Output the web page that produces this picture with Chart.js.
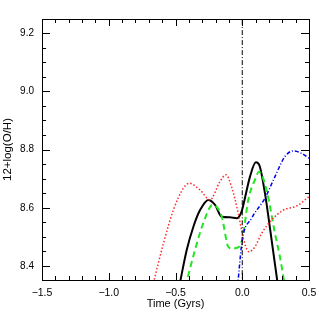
<!DOCTYPE html>
<html lang="en">

<head>
  <meta charset="UTF-8">
  <title>12+log(O/H) vs time</title>
  <style>
    html, body { margin: 0; padding: 0; background: #fff; overflow: hidden; }
    #wrap { width: 319px; height: 319px; }
  </style>
</head>

<body>
  <div id="wrap"><canvas id="ohChart"></canvas></div>

  <script src="https://cdn.jsdelivr.net/npm/chart.js"></script>

  <script>
    // tick labels
    const xTicks = [-1.5, -1.0, -0.5, 0.0, 0.5];
    const yTicks = [8.4, 8.6, 8.8, 9.0, 9.2];

    // black solid
    const blackTime = [-0.472, -0.416, -0.366, -0.316, -0.254, -0.204, -0.154, -0.092, -0.042, -0.005, 0.02, 0.058, 0.102, 0.132, 0.17, 0.22, 0.268];
    const blackOH = [8.33, 8.455, 8.535, 8.592, 8.627, 8.61, 8.569, 8.567, 8.564, 8.587, 8.633, 8.707, 8.756, 8.741, 8.65, 8.489, 8.33];

    // green dashed
    const greenTime = [-0.426, -0.354, -0.292, -0.222, -0.154, -0.105, -0.08, -0.045, -0.01, 0.008, 0.045, 0.095, 0.125, 0.182, 0.245, 0.282, 0.32];
    const greenOH = [8.33, 8.455, 8.547, 8.61, 8.57, 8.466, 8.46, 8.462, 8.476, 8.512, 8.627, 8.696, 8.724, 8.661, 8.512, 8.432, 8.33];

    // red dotted
    const redTime = [-0.672, -0.59, -0.516, -0.441, -0.396, -0.316, -0.242, -0.167, -0.122, -0.08, -0.03, 0.008, 0.05, 0.095, 0.145, 0.22, 0.307, 0.407, 0.5];
    const redOH = [8.33, 8.478, 8.592, 8.667, 8.684, 8.661, 8.627, 8.69, 8.713, 8.672, 8.581, 8.495, 8.449, 8.466, 8.512, 8.558, 8.592, 8.606, 8.638];

    // blue dash-dot
    const blueTime = [-0.035, 0.0, 0.07, 0.17, 0.245, 0.32, 0.381, 0.444, 0.5];
    const blueOH = [8.33, 8.489, 8.564, 8.633, 8.707, 8.776, 8.795, 8.787, 8.77];

    // vertical marker at t = 0
    const markTime = [0, 0];
    const markOH = [8.3, 9.3];

    const X_MIN = -1.5, X_MAX = 0.5;
    const Y_MIN = 8.352, Y_MAX = 9.248;

    function pts(xs, ys) {
      return xs.map((x, i) => ({ x: x, y: ys[i] }));
    }

    function curve(xs, ys, color, width, dash) {
      return {
        data: pts(xs, ys),
        showLine: true,
        borderColor: color,
        borderWidth: width,
        borderDash: dash,
        pointRadius: 0,
        cubicInterpolationMode: 'monotone',
        fill: false
      };
    }

    // box and tick marks on all four sides
    const framePlugin = {
      id: 'frame',
      afterDatasetsDraw(chart) {
        const { ctx, chartArea: a, scales } = chart;
        const sx = scales.x, sy = scales.y;
        ctx.save();
        ctx.strokeStyle = '#000';
        ctx.lineWidth = 1;
        ctx.strokeRect(Math.round(a.left) + 0.5, Math.round(a.top) + 0.5,
          Math.round(a.right - a.left), Math.round(a.bottom - a.top));
        ctx.beginPath();
        for (let i = 0; i <= 20; i++) {
          const v = X_MIN + i * 0.1;
          const px = Math.round(sx.getPixelForValue(v)) + 0.5;
          const len = (i % 5 === 0) ? 7 : 4;
          ctx.moveTo(px, a.bottom); ctx.lineTo(px, a.bottom - len);
          ctx.moveTo(px, a.top); ctx.lineTo(px, a.top + len);
        }
        for (let i = 0; i <= 20; i++) {
          const v = 8.35 + i * 0.05;
          if (v <= Y_MIN + 0.001 || v >= Y_MAX - 0.001) continue;
          const py = Math.round(sy.getPixelForValue(v)) + 0.5;
          const major = Math.abs((v - 8.4) / 0.2 - Math.round((v - 8.4) / 0.2)) < 0.01;
          const len = major ? 8 : 4;
          ctx.moveTo(a.left, py); ctx.lineTo(a.left + len, py);
          ctx.moveTo(a.right, py); ctx.lineTo(a.right - len, py);
        }
        ctx.stroke();
        ctx.restore();
      }
    };

    const fontFam = "'Liberation Sans', Arial, Helvetica, sans-serif";

    new Chart(document.getElementById('ohChart'), {
      type: 'scatter',
      data: {
        datasets: [
          curve(markTime, markOH, '#000000', 1, [5, 2, 1, 2]),
          curve(redTime, redOH, '#ff2a2a', 1.5, [1.5, 2]),
          curve(blueTime, blueOH, '#0000ee', 1.5, [4, 2, 1, 2]),
          curve(greenTime, greenOH, '#22e622', 2, [6, 4]),
          curve(blackTime, blackOH, '#000000', 2, [])
        ]
      },
      options: {
        responsive: true,
        maintainAspectRatio: false,
        animation: false,
        layout: { padding: { left: 0, right: 10, top: 19, bottom: 0 } },
        plugins: {
          legend: { display: false },
          tooltip: { enabled: false }
        },
        scales: {
          x: {
            type: 'linear',
            min: X_MIN,
            max: X_MAX,
            grid: { display: false, drawTicks: false },
            border: { display: false },
            afterBuildTicks: (s) => { s.ticks = xTicks.map(v => ({ value: v })); },
            afterFit: (s) => { s.height = 39; s.paddingLeft = 0; s.paddingRight = 0; },
            ticks: {
              color: '#000',
              padding: 7,
              maxRotation: 0,
              font: { family: fontFam, size: 10.5 },
              callback: (v) => v.toFixed(1).replace('-', '\u2212')
            },
            title: {
              display: true,
              text: 'Time (Gyrs)',
              color: '#000',
              font: { family: fontFam, size: 11 },
              padding: { top: 0, bottom: 8 }
            }
          },
          y: {
            type: 'linear',
            min: Y_MIN,
            max: Y_MAX,
            grid: { display: false, drawTicks: false },
            border: { display: false },
            afterBuildTicks: (s) => { s.ticks = yTicks.map(v => ({ value: v })); },
            afterFit: (s) => { s.width = 42; s.paddingTop = 0; s.paddingBottom = 0; },
            ticks: {
              color: '#000',
              padding: 8,
              font: { family: fontFam, size: 10 },
              callback: (v) => v.toFixed(1)
            },
            title: {
              display: true,
              text: '12+log(O/H)',
              color: '#000',
              font: { family: fontFam, size: 11.5 },
              padding: { top: 1, bottom: 0 }
            }
          }
        }
      },
      plugins: [framePlugin]
    });
  </script>
</body>

</html>
